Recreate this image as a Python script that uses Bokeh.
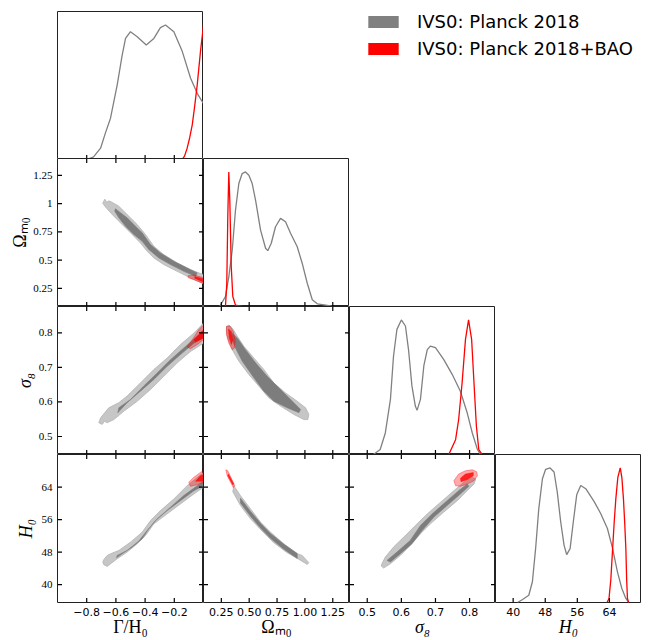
from bokeh.models import Range1d, LinearAxis, FixedTicker, Legend, LegendItem, Spacer
from bokeh.layouts import row, column
from bokeh.plotting import figure
from bokeh.embed import file_html
from bokeh.resources import INLINE

# ---------------- parameters ----------------
param_labels = ["Γ/H₀", "Ωₘ₀", "σ₈", "H₀"]
param_label_styles = ["normal", "normal", "italic", "italic"]
param_ranges = [(-1.0, 0.0), (0.09, 1.40), (0.448, 0.876), (35.6, 72.0)]
tick_vals = [[-0.8, -0.6, -0.4, -0.2], [0.25, 0.5, 0.75, 1.0, 1.25],
             [0.5, 0.6, 0.7, 0.8], [40.0, 48.0, 56.0, 64.0]]
x_tick_labels = [["−0.8", "−0.6", "−0.4", "−0.2"], ["0.25", "0.50", "0.75", "1.00", "1.25"],
                 ["0.5", "0.6", "0.7", "0.8"], ["40", "48", "56", "64"]]
y_tick_labels = [None, ["0.25", "0.5", "0.75", "1", "1.25"],
                 ["0.5", "0.6", "0.7", "0.8"], ["40", "48", "56", "64"]]
series_names = ["IVS0: Planck 2018", "IVS0: Planck 2018+BAO"]

# ---------------- 1D marginals (normalised to peak 1) ----------------
gam_grey_x = [-1.0, -0.797, -0.753, -0.705, -0.671, -0.637, -0.591, -0.557, -0.534, -0.5, -0.454,
              -0.392, -0.34, -0.295, -0.26, -0.203, -0.145, -0.089, -0.043, -0.002]
gam_grey_p = [0, 0, 0.02, 0.084, 0.2, 0.307, 0.555, 0.775, 0.90, 0.95, 0.913,
              0.851, 0.90, 0.98, 1.0, 0.95, 0.802, 0.606, 0.492, 0.418]
gam_red_x = [-0.146, -0.13, -0.112, -0.095, -0.077, -0.06, -0.043, -0.021, 0.0]
gam_red_p = [0, 0.025, 0.084, 0.16, 0.258, 0.40, 0.555, 0.80, 1.0]

om_grey_x = [0.235, 0.243, 0.287, 0.317, 0.348, 0.377, 0.407, 0.437, 0.467, 0.497, 0.527, 0.557,
             0.602, 0.647, 0.667, 0.698, 0.736, 0.781, 0.826, 0.871, 0.931, 0.976, 1.021, 1.066,
             1.111, 1.23, 1.245]
om_grey_p = [0, 0.01, 0.074, 0.22, 0.42, 0.716, 0.914, 0.988, 1.0, 0.976, 0.914, 0.79,
             0.568, 0.433, 0.415, 0.47, 0.593, 0.655, 0.63, 0.544, 0.444, 0.32, 0.173, 0.05,
             0.02, 0.005, 0]
om_red_x = [0.287, 0.299, 0.308, 0.317, 0.326, 0.339, 0.353, 0.377, 0.437]
om_red_p = [0, 0.173, 0.667, 1.0, 0.79, 0.296, 0.074, 0.01, 0]

s8_grey_x = [0.518, 0.538, 0.553, 0.568, 0.577, 0.587, 0.600, 0.612, 0.621, 0.631, 0.641, 0.646,
             0.656, 0.666, 0.676, 0.685, 0.700, 0.724, 0.749, 0.773, 0.793, 0.808, 0.823, 0.832]
s8_grey_p = [0, 0.037, 0.16, 0.41, 0.73, 0.93, 1.0, 0.955, 0.78, 0.51, 0.36, 0.328,
             0.41, 0.66, 0.78, 0.806, 0.794, 0.707, 0.596, 0.47, 0.31, 0.16, 0.037, 0]
s8_red_x = [0.739, 0.759, 0.768, 0.778, 0.788, 0.797, 0.806, 0.813, 0.820, 0.827, 0.837]
s8_red_p = [0, 0.11, 0.26, 0.53, 0.856, 1.0, 0.856, 0.53, 0.21, 0.037, 0]

h0_grey_x = [41.1, 42.35, 43.9, 44.8, 45.6, 46.4, 47.3, 48.1, 49.2, 50.2, 51.0, 51.85, 52.7, 53.35,
             54.2, 55.0, 55.85, 56.85, 58.1, 60.2, 61.85, 63.5, 64.8, 66.0, 67.1, 68.1, 68.85]
h0_grey_p = [0, 0.022, 0.054, 0.154, 0.40, 0.70, 0.92, 0.99, 1.0, 0.97, 0.82, 0.60, 0.425, 0.356,
             0.40, 0.60, 0.80, 0.87, 0.846, 0.75, 0.66, 0.55, 0.40, 0.228, 0.104, 0.03, 0]
h0_red_x = [63.4, 63.9, 64.35, 64.8, 65.2, 65.6, 66.1, 66.7, 67.1, 67.5, 67.8, 68.1, 68.3, 68.5, 68.8]
h0_red_p = [0, 0.03, 0.17, 0.40, 0.60, 0.77, 0.93, 1.0, 0.93, 0.77, 0.60, 0.40, 0.17, 0.03, 0]

# ---------------- 2D contours (outer = 95%, inner = 68%) ----------------
om_gam_grey95_x = [-0.690, -0.676, -0.662, -0.648, -0.630, -0.580, -0.523, -0.454, -0.397, -0.340, -0.272,
                   -0.180, -0.089, 0.0, 0.0, -0.089, -0.180, -0.272, -0.340, -0.386, -0.432, -0.500,
                   -0.568, -0.625, -0.671]
om_gam_grey95_y = [1.005, 1.040, 1.012, 1.025, 1.015, 0.978, 0.904, 0.815, 0.727, 0.623, 0.549,
                   0.476, 0.416, 0.372, 0.292, 0.343, 0.401, 0.461, 0.520, 0.579, 0.653, 0.742,
                   0.830, 0.904, 0.970]
om_gam_grey68_x = [-0.603, -0.568, -0.523, -0.466, -0.420, -0.363, -0.295, -0.203, -0.112, -0.043,
                   -0.055, -0.135, -0.226, -0.306, -0.375, -0.420, -0.477, -0.534, -0.580, -0.608]
om_gam_grey68_y = [0.955, 0.919, 0.875, 0.800, 0.742, 0.638, 0.564, 0.490, 0.431, 0.387,
                   0.357, 0.401, 0.461, 0.520, 0.594, 0.667, 0.727, 0.800, 0.875, 0.934]
om_gam_red95_x = [-0.105, -0.066, 0.0, 0.048, 0.048, 0.0, -0.066, -0.105]
om_gam_red95_y = [0.363, 0.369, 0.345, 0.321, 0.274, 0.292, 0.327, 0.345]
om_gam_red68_x = [-0.06, 0.0, 0.04, 0.04, 0.0, -0.06]
om_gam_red68_y = [0.355, 0.335, 0.315, 0.29, 0.305, 0.34]

s8_gam_grey95_x = [-0.717, -0.705, -0.649, -0.580, -0.523, -0.432, -0.340, -0.249, -0.158, -0.066, 0.0,
                   0.0, -0.089, -0.180, -0.272, -0.363, -0.454, -0.546, -0.614, -0.660, -0.678, -0.694]
s8_gam_grey95_y = [0.540, 0.554, 0.583, 0.598, 0.617, 0.655, 0.694, 0.727, 0.766, 0.799, 0.828,
                   0.770, 0.746, 0.713, 0.674, 0.636, 0.602, 0.573, 0.549, 0.540, 0.544, 0.535]
s8_gam_grey68_x = [-0.580, -0.500, -0.409, -0.317, -0.226, -0.135, -0.043, 0.0, 0.0, -0.066, -0.158,
                   -0.249, -0.340, -0.432, -0.523, -0.587]
s8_gam_grey68_y = [0.583, 0.607, 0.646, 0.684, 0.722, 0.756, 0.790, 0.804, 0.785, 0.770, 0.737,
                   0.703, 0.665, 0.631, 0.598, 0.569]
s8_gam_red95_x = [-0.112, -0.077, -0.032, 0.0, 0.036, 0.036, 0.0, -0.043, -0.089]
s8_gam_red95_y = [0.759, 0.780, 0.809, 0.823, 0.838, 0.790, 0.780, 0.766, 0.754]
s8_gam_red68_x = [-0.066, 0.0, 0.036, 0.036, 0.0, -0.055]
s8_gam_red68_y = [0.780, 0.809, 0.818, 0.790, 0.785, 0.773]

h0_gam_grey95_x = [-0.683, -0.660, -0.625, -0.580, -0.500, -0.420, -0.363, -0.295, -0.203, -0.112, 0.0,
                   0.0, -0.066, -0.158, -0.249, -0.340, -0.397, -0.454, -0.523, -0.591, -0.660, -0.683,
                   -0.690]
h0_gam_grey95_y = [46.12, 47.17, 47.76, 48.40, 50.44, 52.89, 55.75, 58.20, 61.07, 64.33, 67.60,
                   63.94, 62.30, 59.85, 57.40, 54.94, 52.08, 50.04, 48.00, 46.36, 44.48, 44.90, 45.56]
h0_gam_grey68_x = [-0.591, -0.523, -0.443, -0.386, -0.317, -0.226, -0.135, -0.043, 0.0, 0.0, -0.066,
                   -0.158, -0.249, -0.329, -0.375, -0.420, -0.488, -0.557, -0.596]
h0_gam_grey68_y = [47.17, 48.40, 50.70, 53.30, 56.17, 59.04, 61.90, 64.33, 65.41, 64.33, 63.10,
                   60.65, 58.20, 55.75, 53.72, 51.27, 49.23, 47.60, 46.60]
h0_gam_red95_x = [-0.101, -0.066, -0.021, 0.036, 0.036, 0.0, -0.043, -0.089]
h0_gam_red95_y = [65.16, 66.39, 67.60, 68.84, 65.56, 65.16, 64.58, 64.18]
h0_gam_red68_x = [-0.055, -0.021, 0.036, 0.036, -0.009]
h0_gam_red68_y = [65.41, 66.78, 67.60, 65.73, 65.41]

s8_om_grey95_x = [0.296, 0.317, 0.348, 0.393, 0.452, 0.542, 0.631, 0.721, 0.826, 0.931, 1.006, 1.035,
                  1.026, 0.990, 0.901, 0.781, 0.676, 0.586, 0.497, 0.407, 0.348, 0.308, 0.296]
s8_om_grey95_y = [0.818, 0.822, 0.814, 0.790, 0.761, 0.727, 0.694, 0.655, 0.626, 0.602, 0.583, 0.564,
                  0.549, 0.549, 0.564, 0.588, 0.612, 0.646, 0.679, 0.718, 0.751, 0.785, 0.804]
s8_om_grey68_x = [0.348, 0.393, 0.467, 0.557, 0.662, 0.781, 0.901, 0.961, 0.946, 0.841, 0.721, 0.631,
                  0.542, 0.437, 0.377, 0.348]
s8_om_grey68_y = [0.799, 0.785, 0.751, 0.713, 0.674, 0.636, 0.598, 0.578, 0.569, 0.583, 0.602, 0.631,
                  0.670, 0.718, 0.756, 0.780]
s8_om_red95_x = [0.296, 0.326, 0.357, 0.375, 0.368, 0.348, 0.317, 0.296]
s8_om_red95_y = [0.818, 0.820, 0.804, 0.780, 0.756, 0.751, 0.770, 0.794]
s8_om_red68_x = [0.314, 0.339, 0.353, 0.341, 0.321]
s8_om_red68_y = [0.811, 0.804, 0.780, 0.766, 0.785]

h0_om_grey95_x = [0.362, 0.422, 0.512, 0.602, 0.691, 0.811, 0.931, 0.976, 1.035, 1.021, 0.962, 0.947,
                  0.841, 0.721, 0.617, 0.512, 0.422, 0.353]
h0_om_grey95_y = [64.33, 61.88, 58.62, 55.36, 52.90, 50.04, 47.60, 47.17, 45.40, 44.97, 45.95, 46.20,
                  47.84, 50.29, 53.15, 56.17, 59.43, 62.86]
h0_om_grey68_x = [0.422, 0.512, 0.602, 0.691, 0.811, 0.931, 0.931, 0.811, 0.691, 0.602, 0.512, 0.422]
h0_om_grey68_y = [61.25, 58.0, 55.1, 52.6, 49.9, 47.65, 46.45, 48.7, 51.4, 53.9, 56.8, 60.05]
h0_om_red95_x = [0.290, 0.308, 0.371, 0.357, 0.303]
h0_om_red95_y = [68.25, 68.00, 64.33, 63.90, 66.78]
h0_om_red68_x = [0.314, 0.362, 0.353, 0.308]
h0_om_red68_y = [67.2, 64.75, 64.5, 66.78]

h0_s8_grey95_x = [0.543, 0.553, 0.577, 0.607, 0.641, 0.676, 0.715, 0.754, 0.783, 0.808, 0.818, 0.813,
                  0.793, 0.764, 0.724, 0.685, 0.656, 0.626, 0.597, 0.568, 0.548, 0.541]
h0_s8_grey95_y = [45.14, 46.78, 49.23, 51.68, 54.53, 57.39, 60.26, 63.10, 65.16, 66.39, 65.97, 64.75,
                  63.10, 60.65, 57.81, 54.94, 52.49, 49.63, 47.17, 45.14, 44.08, 44.58]
h0_s8_grey68_x = [0.558, 0.587, 0.626, 0.656, 0.690, 0.729, 0.768, 0.793, 0.798, 0.773, 0.734, 0.695,
                  0.661, 0.631, 0.597, 0.568]
h0_s8_grey68_y = [45.95, 47.99, 50.86, 54.53, 57.39, 60.26, 63.10, 64.75, 64.18, 62.30, 59.43, 56.58,
                  53.30, 50.04, 47.60, 45.55]
h0_s8_red95_x = [0.754, 0.768, 0.788, 0.808, 0.821, 0.823, 0.813, 0.793, 0.773, 0.759]
h0_s8_red95_y = [65.56, 67.20, 68.00, 68.25, 67.76, 66.78, 65.56, 64.75, 64.18, 64.33]
h0_s8_red68_x = [0.773, 0.788, 0.811, 0.811, 0.793, 0.775]
h0_s8_red68_y = [66.14, 67.20, 67.60, 66.78, 65.80, 65.30]

# ---------------- assemble (library-side tables) ----------------
marginals = {
    0: ((gam_grey_x, gam_grey_p), (gam_red_x, gam_red_p)),
    1: ((om_grey_x, om_grey_p), (om_red_x, om_red_p)),
    2: ((s8_grey_x, s8_grey_p), (s8_red_x, s8_red_p)),
    3: ((h0_grey_x, h0_grey_p), (h0_red_x, h0_red_p)),
}
contours = {
    (1, 0): [(om_gam_grey95_x, om_gam_grey95_y), (om_gam_grey68_x, om_gam_grey68_y),
             (om_gam_red95_x, om_gam_red95_y), (om_gam_red68_x, om_gam_red68_y)],
    (2, 0): [(s8_gam_grey95_x, s8_gam_grey95_y), (s8_gam_grey68_x, s8_gam_grey68_y),
             (s8_gam_red95_x, s8_gam_red95_y), (s8_gam_red68_x, s8_gam_red68_y)],
    (3, 0): [(h0_gam_grey95_x, h0_gam_grey95_y), (h0_gam_grey68_x, h0_gam_grey68_y),
             (h0_gam_red95_x, h0_gam_red95_y), (h0_gam_red68_x, h0_gam_red68_y)],
    (2, 1): [(s8_om_grey95_x, s8_om_grey95_y), (s8_om_grey68_x, s8_om_grey68_y),
             (s8_om_red95_x, s8_om_red95_y), (s8_om_red68_x, s8_om_red68_y)],
    (3, 1): [(h0_om_grey95_x, h0_om_grey95_y), (h0_om_grey68_x, h0_om_grey68_y),
             (h0_om_red95_x, h0_om_red95_y), (h0_om_red68_x, h0_om_red68_y)],
    (3, 2): [(h0_s8_grey95_x, h0_s8_grey95_y), (h0_s8_grey68_x, h0_s8_grey68_y),
             (h0_s8_red95_x, h0_s8_red95_y), (h0_s8_red68_x, h0_s8_red68_y)],
}

GREY_LINE = "#808080"
FILL_STYLES = [
    dict(fill_color="#c6c6c6", fill_alpha=1.0, line_color="#b4b4b4", line_width=0.8),
    dict(fill_color="#7d7d7d", fill_alpha=1.0, line_color="#7d7d7d", line_width=0.6),
    dict(fill_color="red", fill_alpha=0.33, line_color="red", line_alpha=0.45, line_width=0.8),
    dict(fill_color="red", fill_alpha=0.8, line_color="red", line_alpha=0.6, line_width=0.6),
]

FRAME_W, FRAME_H = 146, 148
LEFT_B, BOTTOM_B, TOP_B = 57, 38, 10
TICK_PX = 4.5


def add_label_axis(p, side, ticks, labels, label_font, major_standoff, axis_label,
                   axis_label_style, axis_label_standoff):
    ax = LinearAxis(ticker=FixedTicker(ticks=list(ticks), minor_ticks=[]),
                    major_tick_in=0, major_tick_out=0, minor_tick_in=0, minor_tick_out=0,
                    axis_line_color=None, major_tick_line_color=None, minor_tick_line_color=None)
    ax.major_label_overrides = {float(t): l for t, l in zip(ticks, labels)}
    ax.major_label_text_font = label_font
    ax.major_label_text_font_size = "11px"
    ax.major_label_text_color = "black"
    ax.major_label_standoff = major_standoff
    ax.axis_label = axis_label
    ax.axis_label_text_font = "Liberation Serif"
    ax.axis_label_text_font_size = "18px"
    ax.axis_label_text_font_style = axis_label_style
    ax.axis_label_text_color = "black"
    ax.axis_label_standoff = axis_label_standoff
    p.add_layout(ax, side)


def add_inward_ticks(p, side, ticks, xr, yr):
    """Short inward tick marks along one frame edge, drawn as segments."""
    n = len(ticks)
    dx = (xr[1] - xr[0]) * TICK_PX / FRAME_W
    dy = (yr[1] - yr[0]) * TICK_PX / FRAME_H
    style = dict(line_color="black", line_width=1.2)
    if side == "below":
        p.segment(x0=ticks, y0=[yr[0]] * n, x1=ticks, y1=[yr[0] + dy] * n, **style)
    elif side == "above":
        p.segment(x0=ticks, y0=[yr[1]] * n, x1=ticks, y1=[yr[1] - dy] * n, **style)
    elif side == "left":
        p.segment(x0=[xr[0]] * n, y0=ticks, x1=[xr[0] + dx] * n, y1=ticks, **style)
    else:
        p.segment(x0=[xr[1]] * n, y0=ticks, x1=[xr[1] - dx] * n, y1=ticks, **style)


figs = {}
for r in range(4):
    for c in range(r + 1):
        diag = (r == c)
        xr = param_ranges[c]
        yr = (0.0, 1.1) if diag else param_ranges[r]
        p = figure(frame_width=FRAME_W, frame_height=FRAME_H,
                   x_range=Range1d(*xr), y_range=Range1d(*yr),
                   output_backend="svg", toolbar_location=None, tools="",
                   x_axis_type=None, y_axis_type=None,
                   min_border_left=LEFT_B if c == 0 else 0, min_border_right=0,
                   min_border_top=TOP_B if r == 0 else 0,
                   min_border_bottom=BOTTOM_B if r == 3 else 0,
                   outline_line_color="#222222", outline_line_width=1,
                   background_fill_color="white", border_fill_alpha=0)
        if not diag:
            for (xs, ys), st in zip(contours[(r, c)], FILL_STYLES):
                p.patch(xs, ys, **st)
            add_inward_ticks(p, "left", tick_vals[r], xr, yr)
            add_inward_ticks(p, "right", tick_vals[r], xr, yr)
            add_inward_ticks(p, "above", tick_vals[c], xr, yr)
        else:
            (gx, gp), (rx, rp) = marginals[c]
            p.line(gx, gp, line_color=GREY_LINE, line_width=1.3)
            p.line(rx, rp, line_color="red", line_width=1.3)
        add_inward_ticks(p, "below", tick_vals[c], xr, yr)
        if r == 3:
            add_label_axis(p, "below", tick_vals[c], x_tick_labels[c], "DejaVu Sans", 5,
                           param_labels[c], param_label_styles[c], -2)
        if c == 0 and not diag:
            standoffs = {1: 0, 2: 1, 3: 3}
            add_label_axis(p, "left", tick_vals[r], y_tick_labels[r], "Liberation Serif", 5,
                           param_labels[r], param_label_styles[r], standoffs[r])
        figs[(r, c)] = p

# legend panel (upper-right empty area); the swatch renderers sit outside the visible range
lp = figure(width=2 * FRAME_W, height=FRAME_H + TOP_B, x_range=Range1d(0, 1), y_range=Range1d(0, 1),
            output_backend="svg", toolbar_location=None, tools="",
            x_axis_type=None, y_axis_type=None, outline_line_color=None,
            min_border_left=15, min_border_top=11, min_border_right=0, min_border_bottom=0,
            background_fill_color="white", border_fill_alpha=0)
r_grey = lp.quad(left=[5], right=[6], top=[6], bottom=[5], fill_color="#808080", line_color=None)
r_red = lp.quad(left=[5], right=[6], top=[6], bottom=[5], fill_color="#ff0000", line_color=None)
legend = Legend(items=[LegendItem(label=series_names[0], renderers=[r_grey]),
                       LegendItem(label=series_names[1], renderers=[r_red])],
                location="top_left", margin=0, padding=0, spacing=6,
                glyph_width=38, glyph_height=15, label_standoff=15,
                label_text_font="DejaVu Sans", label_text_font_size="18px",
                label_text_color="black", border_line_color=None, background_fill_alpha=0)
lp.add_layout(legend)

rows = [
    row(figs[(0, 0)], Spacer(width=FRAME_W, height=FRAME_H + TOP_B), lp, spacing=0),
    row(figs[(1, 0)], figs[(1, 1)], spacing=0),
    row(figs[(2, 0)], figs[(2, 1)], figs[(2, 2)], spacing=0),
    row(figs[(3, 0)], figs[(3, 1)], figs[(3, 2)], figs[(3, 3)], spacing=0),
]
layout = column(*rows, spacing=0)

open("out.html", "w").write(file_html(layout, INLINE))
